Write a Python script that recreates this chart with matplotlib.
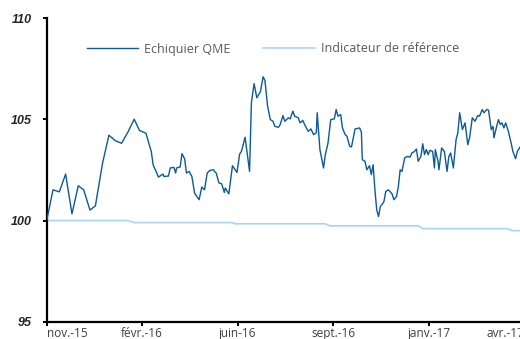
"""Echiquier QME vs indicateur de référence, base 100."""

import matplotlib.pyplot as plt

# Days since start (nov. 2015), fund index base 100.
qme_day = [
    0, 7, 14, 21, 28, 35, 41, 48, 54, 62, 69, 76, 83, 90, 97, 103, 110, 116,
    118, 124, 129, 130, 135, 137, 141, 143, 144, 148, 150, 153, 155, 158, 161,
    164, 169, 172, 175, 178, 181, 185, 186, 188, 191, 194, 197, 198, 202, 206,
    211, 214, 216, 220, 225, 227, 230, 233, 237, 240, 242, 245, 248, 251, 253,
    257, 259, 262, 264, 268, 270, 273, 275, 279, 281, 284, 286, 290, 293, 296,
    299, 300, 303, 307, 309, 312, 315, 319, 321, 323, 326, 328, 331, 333, 336,
    338, 342, 347, 349, 350, 353, 355, 358, 360, 362, 364, 366, 368, 370, 373,
    374, 376, 379, 383, 385, 388, 390, 392, 394, 397, 400, 403, 405, 408, 410,
    412, 415, 417, 419, 421, 423, 425, 428, 430, 431, 434, 435, 438, 441, 444,
    446, 448, 451, 454, 456, 458, 461, 464, 467, 469, 472, 475, 478, 480, 483,
    485, 488, 490, 493, 495, 496, 499, 501, 503, 505, 507, 509, 512, 515, 517,
    520, 522, 525,
]
qme_val = [
    100.00, 101.52, 101.42, 102.30, 100.33, 101.72, 101.52, 100.52, 100.73,
    102.85, 104.22, 103.95, 103.82, 104.37, 105.01, 104.45, 104.32, 103.41,
    102.76, 102.15, 102.30, 102.18, 102.20, 102.60, 102.63, 102.35, 102.60,
    102.65, 103.31, 103.05, 102.35, 102.43, 102.18, 101.36, 101.03, 101.66,
    101.52, 102.35, 102.48, 102.51, 102.43, 102.35, 101.86, 101.82, 101.39,
    101.61, 101.32, 102.71, 102.38, 103.29, 103.42, 104.12, 102.43, 105.82,
    106.77, 106.07, 106.37, 107.11, 106.93, 105.65, 104.99, 104.91, 104.66,
    104.61, 104.75, 105.19, 104.91, 105.08, 105.03, 105.41, 105.16, 105.08,
    104.83, 104.95, 104.75, 104.41, 104.53, 104.25, 104.34, 105.33, 103.51,
    102.60, 103.26, 103.84, 104.99, 105.03, 105.49, 105.16, 105.24, 104.58,
    104.25, 104.17, 103.67, 103.64, 104.53, 104.58, 104.37, 103.01, 102.93,
    102.51, 102.71, 102.27, 102.76, 101.52, 100.53, 100.20, 100.69, 100.86,
    100.94, 101.44, 101.52, 101.32, 101.03, 101.19, 101.69, 102.51, 102.43,
    103.10, 103.17, 103.14, 103.34, 103.42, 103.54, 102.93, 103.17, 103.80,
    103.26, 103.51, 103.26, 103.47, 103.42, 102.60, 103.51, 102.93, 102.51,
    103.59, 103.42, 102.43, 103.17, 103.34, 102.60, 104.00, 104.34, 105.33,
    104.50, 104.83, 103.75, 104.09, 105.08, 104.91, 105.19, 105.16, 105.49,
    105.33, 105.49, 105.46, 104.50, 104.66, 104.09, 104.66, 104.99, 104.75,
    104.83, 104.58, 104.83, 104.41, 103.84, 103.42, 103.06, 103.42, 103.64,
]

bench_day = [0, 90, 97, 205, 209, 309, 314, 412, 417, 511, 516, 525]
bench_val = [100.0, 100.0, 99.90, 99.90, 99.84, 99.84, 99.74, 99.74,
             99.60, 99.60, 99.50, 99.50]

tick_day = [0, 106, 212, 318, 424, 530]
tick_lbl = ["nov.-15", "févr.-16", "juin-16", "sept.-16", "janv.-17", "avr.-17"]
y_ticks = [95, 100, 105, 110]

QME_COLOR = "#0c5a97"
BENCH_COLOR = "#a9d4f8"
TEXT_GREY = "#404040"

W, H = 520, 339
fig = plt.figure(figsize=(W / 100, H / 100), dpi=100)
# axis runs slightly past the right edge of the canvas
ax = fig.add_axes([46.7 / W, 17.3 / H, (525.5 - 46.7) / W, (321.7 - 18.3) / H])

ax.plot(qme_day, qme_val, color=QME_COLOR, lw=1.0, label="Echiquier QME",
        zorder=3)
ax.plot(bench_day, bench_val, color=BENCH_COLOR, lw=1.2,
        label="Indicateur de référence", zorder=2)

ax.set_xlim(0, 531)
ax.set_ylim(95, 110)

for side in ("top", "right"):
    ax.spines[side].set_visible(False)
for side in ("left", "bottom"):
    ax.spines[side].set_linewidth(1.6)
    ax.spines[side].set_color("black")

ax.set_yticks(y_ticks)
ax.set_yticklabels([str(v) for v in y_ticks], fontfamily="Liberation Sans",
                   fontweight="bold", fontstyle="italic", fontsize=9,
                   color="#262626")
ax.tick_params(axis="y", length=3, width=1.4, pad=8)

ax.set_xticks(tick_day)
labels = ax.set_xticklabels(tick_lbl, fontfamily="Open Sans", fontsize=8.5,
                            color=TEXT_GREY)
labels[0].set_horizontalalignment("left")
labels[-1].set_horizontalalignment("right")
ax.tick_params(axis="x", length=3, width=1.4, pad=1)

leg = ax.legend(loc="center left", bbox_to_anchor=(87 / W, 1 - 49 / H),
                bbox_transform=fig.transFigure, ncol=2, frameon=False,
                borderpad=0, borderaxespad=0, handlelength=4.1,
                handletextpad=0.5, columnspacing=2.6,
                prop={"family": "Open Sans", "size": 9})
for t in leg.get_texts():
    t.set_color("#595959")

fig.savefig("out.png", dpi=100)
